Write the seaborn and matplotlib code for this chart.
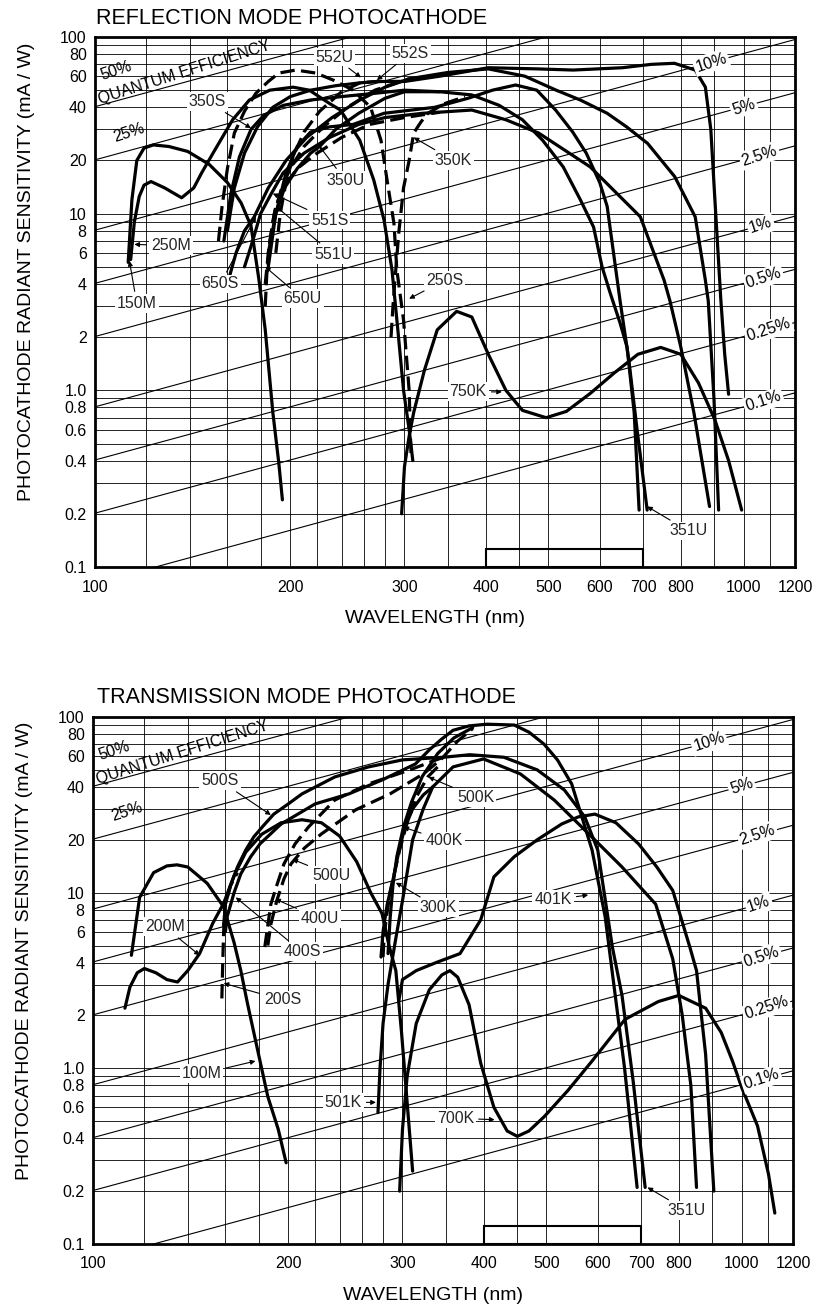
import numpy as np
import matplotlib
matplotlib.use('Agg')
import matplotlib.pyplot as plt
from matplotlib.patches import Rectangle
from matplotlib.ticker import FixedLocator, NullFormatter
import seaborn as sns

sns.set_theme(style='white')
plt.rcParams['font.family'] = ['Liberation Sans', 'DejaVu Sans']

# ---- reflection mode photocathodes (wavelength nm, sensitivity mA/W) ----
r150m_wl = [112.5, 114, 116, 119, 123, 130, 139, 150, 160, 168, 174, 179, 183, 188, 192, 194.5]
r150m_s = [5.3, 12, 20, 23.5, 24.5, 24, 22.5, 19, 15, 11.5, 8.5, 4.2, 2.2, 0.75, 0.39, 0.24]

r250m_wl = [113.5, 115, 117, 119, 122, 128, 136, 142, 146, 153, 163, 173, 186, 202, 214, 230, 239,
            256, 269, 279, 287, 293, 299, 305, 309]
r250m_s = [5.5, 9, 12.5, 14.5, 15.2, 14, 12.3, 14, 17, 22.9, 34, 44, 50, 52, 50, 42, 38.6,
           26, 15.5, 9.2, 4.8, 2.2, 1.0, 0.6, 0.4]

r250s_wl = [155, 157, 160, 164, 170, 177, 185, 192, 204, 219, 233, 250, 266, 276, 282, 289, 292, 299, 305, 307]
r250s_s = [7, 11, 18, 28.6, 38, 48, 56, 62.5, 65, 62.5, 57, 50, 40, 26, 15.5, 8.8, 4.8, 2.5, 1.0, 0.44]

r750k_wl = [297, 300, 305, 310, 322, 337, 361, 381, 404, 430, 456, 496, 533, 580, 631, 687, 745,
            800, 852, 903, 948, 993]
r750k_s = [0.2, 0.37, 0.55, 0.75, 1.3, 2.2, 2.8, 2.6, 1.6, 1.0, 0.77, 0.70, 0.76, 0.96, 1.25, 1.6, 1.75,
           1.6, 1.1, 0.68, 0.40, 0.21]

r351u_wl = [185, 190, 197, 205, 215, 230, 250, 279, 334, 376, 410, 445, 480, 513, 545, 572, 600,
            616, 645, 665, 685, 710]
r351u_s = [5, 10, 17, 24, 29, 31, 32, 37, 40, 45, 50, 53.5, 50, 38.6, 29, 22, 15,
           11, 3.2, 1.5, 0.6, 0.21]

# long wavelength parts shared by a family
r552_tail_wl = [340, 404, 480, 546, 650, 720, 782, 842, 873, 890, 903, 922, 935, 948]
r552_tail_s = [60, 67, 66, 65, 67, 70, 71, 65, 52, 30, 12, 3.3, 1.6, 0.95]
r650_tail_wl = [350, 404, 460, 514, 560, 616, 660, 711, 783, 842, 873, 882, 900, 915]
r650_tail_s = [63, 66, 60, 50, 44, 37, 31, 25, 16.2, 9.6, 4.2, 3.2, 0.9, 0.21]
r350_tail_wl = [381, 420, 456, 490, 527, 560, 587, 605, 622, 645, 661, 678, 690]
r350_tail_s = [47, 41, 34, 26, 18.4, 12, 8.4, 5, 3.6, 2.4, 1.76, 0.75, 0.21]
r551_tail_wl = [381, 430, 483, 580, 693, 754, 770, 800, 838, 886]
r551_tail_s = [38.6, 34, 28.6, 18.4, 9.6, 4.2, 3.2, 1.76, 0.75, 0.22]

# short wavelength parts
r552s_wl = [160, 164, 170, 178, 188, 200, 215, 235, 256, 272, 300]
r552s_s = [8, 14, 22, 31, 40, 46, 50, 53, 55, 56, 56]
r552u_wl = [190, 193, 197, 202, 210, 222, 240, 256, 272, 300]
r552u_s = [6, 10, 15, 21, 29, 38, 49, 55, 56, 56]
r650s_wl = [160, 165, 170, 176, 185, 197, 212, 232, 256, 280, 305]
r650s_s = [4, 6, 8, 9.6, 14, 20, 27, 35, 44, 52, 58]
r650u_wl = [183, 184, 186, 189, 194, 200, 210, 225, 245, 270, 305]
r650u_s = [3, 4.5, 7, 10, 14, 18, 24, 31, 40, 50, 58]
r350s_wl = [158, 162, 167, 174, 182, 195, 215, 240, 270, 300, 340]
r350s_s = [7, 13, 21, 30, 36, 41, 44, 46, 48, 50, 49]
r350u_wl = [185, 190, 196, 205, 215, 222, 235, 255, 280, 300, 340]
r350u_s = [6, 10, 14, 18, 22, 24, 30, 37, 45, 49, 49]
r350k_wl = [286, 288, 290, 294, 299, 305, 310, 318, 326, 346, 372]
r350k_s = [2, 3, 4.2, 7.8, 14, 20, 28.6, 33, 37, 42, 46]
r551s_wl = [170, 175, 180, 187, 195, 210, 230, 255, 280, 320]
r551s_s = [5, 7, 10, 13, 17, 22, 27, 32, 35, 37]
r551u_wl = [183, 185, 188, 190, 195, 205, 220, 240, 265, 300, 340]
r551u_s = [4, 6, 9, 11, 14, 18, 22, 27, 32, 35, 37.5]

# ---- transmission mode photocathodes ----
t100m_wl = [114.6, 118, 124, 130, 134.7, 140, 150, 159, 165, 169, 173, 180, 186, 193, 198.5]
t100m_s = [4.4, 9.4, 13, 14.2, 14.4, 14, 11.3, 8.3, 5.2, 3.6, 2.35, 1.2, 0.69, 0.45, 0.29]
t200m_wl = [112, 114, 117, 120, 125, 130, 135, 140, 146, 153, 159, 165, 172, 182, 195, 210, 225,
            240, 255, 268, 279, 286, 293, 299, 305, 311]
t200m_s = [2.2, 2.9, 3.5, 3.7, 3.5, 3.2, 3.1, 3.6, 4.5, 6.7, 8.7, 12.5, 17, 21.5, 25, 26, 25,
           21, 15, 10, 7.6, 5, 3.6, 1.6, 0.64, 0.26]
t200s_wl = [158, 158.5, 159, 160, 163, 167]
t200s_s = [2.5, 4, 6, 8.7, 11, 13]
t700k_wl = [297, 300, 305, 315, 330, 345, 355, 365, 380, 396, 415, 435, 451, 470, 496, 540, 588,
            661, 744, 800, 880, 930, 968, 1000, 1058, 1100, 1125]
t700k_s = [0.2, 0.45, 0.9, 1.8, 2.8, 3.4, 3.6, 3.3, 2.3, 1.07, 0.6, 0.44, 0.41, 0.44, 0.53, 0.75, 1.1,
           1.9, 2.4, 2.6, 2.2, 1.6, 1.1, 0.78, 0.47, 0.25, 0.15]
t401k_wl = [296, 300, 315, 338, 368, 396, 415, 446, 484, 528, 560, 594, 640, 694, 740, 783, 832,
            852, 880, 906]
t401k_s = [2.4, 3.2, 3.6, 4.0, 4.5, 7, 12.3, 16, 20, 24.6, 27, 28, 25, 18.9, 14, 10.3, 4.9,
           3.6, 1.2, 0.2]

t_p_tail_wl = [405, 446, 470, 496, 520, 547, 588, 616, 636, 660, 690]
t_p_tail_s = [91, 90, 82, 70, 57, 41.6, 17.5, 7.3, 2.9, 1.0, 0.21]
t_q_tail_wl = [381, 430, 484, 533, 573, 600, 632, 654, 680, 710]
t_q_tail_s = [61, 59, 50, 38.4, 27, 17.5, 4.9, 2.6, 0.86, 0.21]
t_r_tail_wl = [359, 400, 456, 514, 588, 654, 737, 783, 810, 835, 852]
t_r_tail_s = [52, 57.7, 47.4, 33.7, 20.7, 14, 8.6, 4.2, 2.0, 0.8, 0.21]

t400s_wl = [160, 161, 165, 169, 175, 181, 195, 220, 248, 279, 314, 330, 345, 359, 380]
t400s_s = [6, 7.3, 10, 12.8, 16, 19, 24.6, 32, 36.5, 43.8, 54, 65, 75, 84, 89]
t500u_wl = [186, 188, 192, 197, 202, 212, 225, 254, 287, 323, 345, 365, 385]
t500u_s = [5, 6.6, 9, 12, 14.6, 18, 21.6, 29.6, 36.5, 47.4, 58, 73, 86]
t400k_wl = [285, 287, 290, 294, 301, 310, 322, 340, 360, 385]
t400k_s = [4.5, 7, 11, 16, 23.6, 33, 46, 62, 76, 87]
t500s_wl = [159, 160, 163, 167, 172, 177, 183, 190, 200, 210, 236, 266, 300, 347]
t500s_s = [6.5, 8.6, 11, 14, 17.5, 20.8, 24, 28, 32, 36.5, 45.6, 52, 57, 59]
t400u_wl = [184, 186, 188, 192, 197, 205, 215, 236, 266, 308, 338, 347]
t400u_s = [4.9, 6.5, 8.6, 11, 14.6, 19, 23.7, 33.7, 41.6, 50, 57, 59]
t500k_wl = [280, 281, 283, 287, 293, 297, 305, 315, 328, 345]
t500k_s = [4.3, 5.5, 7, 10, 14, 17.5, 25, 35, 45.5, 55]
t501k_wl = [275, 277, 280, 285, 293, 300, 311, 323, 334]
t501k_s = [0.56, 1.0, 1.8, 3.0, 5.5, 9, 20, 30, 40]
t300k_wl = [278, 280, 284, 290, 296, 302, 311, 323, 334]
t300k_s = [4.3, 6, 8.5, 11.8, 17, 23, 30, 36, 40]

# ---- quantum efficiency reference lines ----
qe_levels = [50, 25, 10, 5, 2.5, 1, 0.5, 0.25, 0.1]
qe_right_text = ['10%', '5%', '2.5%', '1%', '0.5%', '0.25%', '0.1%']
qe_right_wl = [891, 1000, 1058, 1063, 1073, 1092, 1073]

# ---- curve labels: text position and arrow tip (wavelength, sensitivity) ----
refl_names = ['552U', '552S', '350S', '350U', '551S', '551U', '350K', '250S', '650S', '650U',
              '250M', '150M', '750K', '351U']
refl_text = [(234, 77), (306, 81), (149, 43), (243, 15.5), (230, 9.2), (233, 5.9), (357, 20),
             (346, 4.2), (156, 4.0), (209, 3.3), (131, 6.6), (116, 3.1), (376, 0.98), (822, 0.16)]
refl_tip = [(257, 59), (272, 57), (174, 30.5), (222, 24), (188, 13), (190, 11), (310, 27),
            (305, 3.3), (177, 9.6), (183, 5.0), (115, 6.7), (113, 5.4), (424, 0.98), (710, 0.22)]

trans_names = ['500S', '500U', '400U', '400S', '200M', '200S', '100M', '501K', '700K', '351U',
               '500K', '400K', '300K', '401K']
trans_text = [(157, 43.3), (233, 12.6), (224, 7.1), (210, 4.6), (129, 6.4), (196, 2.45), (147, 0.93),
              (243, 0.64), (362, 0.52), (823, 0.155), (389, 35), (348, 19.7), (341, 8.2), (512, 9.1)]
trans_tip = [(188, 27.7), (203, 15.5), (191, 9.2), (166, 9.4), (146, 4.4), (159, 3.05), (178, 1.1),
             (273, 0.64), (416, 0.51), (716, 0.21), (329, 45.5), (301, 23.6), (293, 11.4), (580, 9.7)]

# ---- axes scale ----
wl_grid = [100, 120, 140, 160, 180, 200, 220, 240, 260, 280, 300, 350, 400, 450, 500,
           600, 700, 800, 900, 1000, 1100, 1200]
wl_ticks = [100, 200, 300, 400, 500, 600, 700, 800, 1000, 1200]
s_ticks = [0.1, 0.2, 0.4, 0.6, 0.8, 1, 2, 4, 6, 8, 10, 20, 40, 60, 80, 100]
s_tick_labels = ['0.1', '0.2', '0.4', '0.6', '0.8', '1.0', '2', '4', '6', '8', '10', '20', '40', '60', '80', '100']
s_minor = [0.3, 0.5, 0.7, 0.9, 3, 5, 7, 9, 30, 50, 70, 90]
visible_band = [400, 700]
band_top = 0.127

refl_curves = [
    (r150m_wl, r150m_s, '-'),
    (r250m_wl, r250m_s, '-'),
    (r250s_wl, r250s_s, '--'),
    (r750k_wl, r750k_s, '-'),
    (r351u_wl, r351u_s, '-'),
    (r552s_wl + r552_tail_wl, r552s_s + r552_tail_s, '-'),
    (r552u_wl, r552u_s, '--'),
    (r650s_wl + r650_tail_wl, r650s_s + r650_tail_s, '-'),
    (r650u_wl, r650u_s, '--'),
    (r350s_wl + r350_tail_wl, r350s_s + r350_tail_s, '-'),
    (r350u_wl, r350u_s, '-'),
    (r350k_wl, r350k_s, '--'),
    (r551s_wl + r551_tail_wl, r551s_s + r551_tail_s, '-'),
    (r551u_wl, r551u_s, '--'),
]

trans_curves = [
    (t100m_wl, t100m_s, '-'),
    (t200m_wl, t200m_s, '-'),
    (t200s_wl, t200s_s, '--'),
    (t700k_wl, t700k_s, '-'),
    (t401k_wl, t401k_s, '-'),
    (t400s_wl + t_p_tail_wl, t400s_s + t_p_tail_s, '-'),
    (t500u_wl, t500u_s, '--'),
    (t400k_wl, t400k_s, '-'),
    (t500s_wl + t_q_tail_wl, t500s_s + t_q_tail_s, '-'),
    (t400u_wl, t400u_s, '--'),
    (t500k_wl, t500k_s, '--'),
    (t501k_wl + t_r_tail_wl, t501k_s + t_r_tail_s, '-'),
    (t300k_wl, t300k_s, '-'),
]

W, H = 819, 1311
fig = plt.figure(figsize=(W / 100, H / 100), dpi=100)
fig.patch.set_facecolor('white')

# axes boxes in pixels: left, top, right, bottom
boxes = [(95, 37, 795, 567), (93, 717, 793, 1244)]
titles = ['REFLECTION MODE PHOTOCATHODE', 'TRANSMISSION MODE PHOTOCATHODE']
title_xy = [(96, 24), (97, 703)]


def draw_panel(ax, curves, names, text_pos, tips, qe_angle):
    ax.set_xscale('log')
    ax.set_yscale('log')
    ax.set_xlim(100, 1200)
    ax.set_ylim(0.1, 100)
    ax.set_facecolor('white')

    ax.xaxis.set_major_locator(FixedLocator(wl_ticks))
    ax.set_xticklabels([str(v) for v in wl_ticks])
    ax.xaxis.set_minor_locator(FixedLocator(wl_grid))
    ax.xaxis.set_minor_formatter(NullFormatter())
    ax.yaxis.set_major_locator(FixedLocator(s_ticks))
    ax.set_yticklabels(s_tick_labels)
    ax.yaxis.set_minor_locator(FixedLocator(s_minor))
    ax.yaxis.set_minor_formatter(NullFormatter())
    ax.tick_params(which='both', length=0, labelsize=11.5, colors='black')
    ax.tick_params(axis='y', pad=6)
    ax.tick_params(axis='x', pad=9)
    ax.grid(which='both', color='black', lw=0.6)
    for sp in ax.spines.values():
        sp.set_color('black')
        sp.set_linewidth(2)

    # quantum efficiency lines
    wl_edge = np.array([100.0, 1200.0])
    for q in qe_levels:
        ax.plot(wl_edge, q / 100 * wl_edge / 1.2398, color='black', lw=0.8, zorder=2)
    txt_kw = dict(rotation_mode='anchor', fontsize=11.5, color='black', zorder=6)
    for t, w, q in zip(qe_right_text, qe_right_wl, qe_levels[2:]):
        ax.text(w, q / 100 * w / 1.2398, t, ha='center', va='center', rotation=qe_angle + 3,
                bbox=dict(boxstyle='square,pad=0.12', fc='white', ec='none'), **txt_kw)
    ax.text(103, 55, '50%', ha='left', va='bottom', rotation=qe_angle + 3, **txt_kw)
    ax.text(102, 41.5, 'QUANTUM EFFICIENCY', ha='left', va='baseline', rotation=qe_angle + 2.5, **txt_kw)
    ax.text(108, 24.5, '25%', ha='left', va='bottom', rotation=qe_angle + 3, **txt_kw)

    # spectral response curves
    for wl, s, ls in curves:
        sns.lineplot(x=wl, y=s, ax=ax, color='black', lw=2.3, estimator=None, sort=False,
                     linestyle=(0, (4.5, 2)) if ls == '--' else '-', zorder=4)

    # visible range box
    ax.add_patch(Rectangle((visible_band[0], 0.1), visible_band[1] - visible_band[0], band_top - 0.1,
                           fill=False, ec='black', lw=1.5, zorder=5))

    # curve labels
    for n, tp, tip in zip(names, text_pos, tips):
        ax.annotate(n, xy=tip, xytext=tp, ha='center', va='center', fontsize=11.5, zorder=7,
                    bbox=dict(boxstyle='square,pad=0.12', fc='white', ec='none'),
                    arrowprops=dict(arrowstyle='-|>', color='black', lw=0.8, mutation_scale=7,
                                    shrinkA=2, shrinkB=0))

    ax.set_xlabel('WAVELENGTH (nm)', fontsize=14, color='black')
    ax.set_ylabel('PHOTOCATHODE RADIANT SENSITIVITY (mA / W)', fontsize=14, color='black')
    ax.xaxis.set_label_coords(0.486, -0.082)
    ax.yaxis.set_label_coords(-0.086, 0.557)


for i, (box, curves, names, tpos, tips) in enumerate(
        [(boxes[0], refl_curves, refl_names, refl_text, refl_tip),
         (boxes[1], trans_curves, trans_names, trans_text, trans_tip)]):
    l, t, r, b = box
    ax = fig.add_axes([l / W, 1 - b / H, (r - l) / W, (b - t) / H])
    ang = np.degrees(np.arctan(((b - t) / 3) / ((r - l) / np.log10(12))))
    draw_panel(ax, curves, names, tpos, tips, ang)
    fig.text(title_xy[i][0] / W, 1 - title_xy[i][1] / H, titles[i], fontsize=15.5,
             ha='left', va='baseline', color='black')

fig.savefig('out.png', dpi=100, facecolor='white')
